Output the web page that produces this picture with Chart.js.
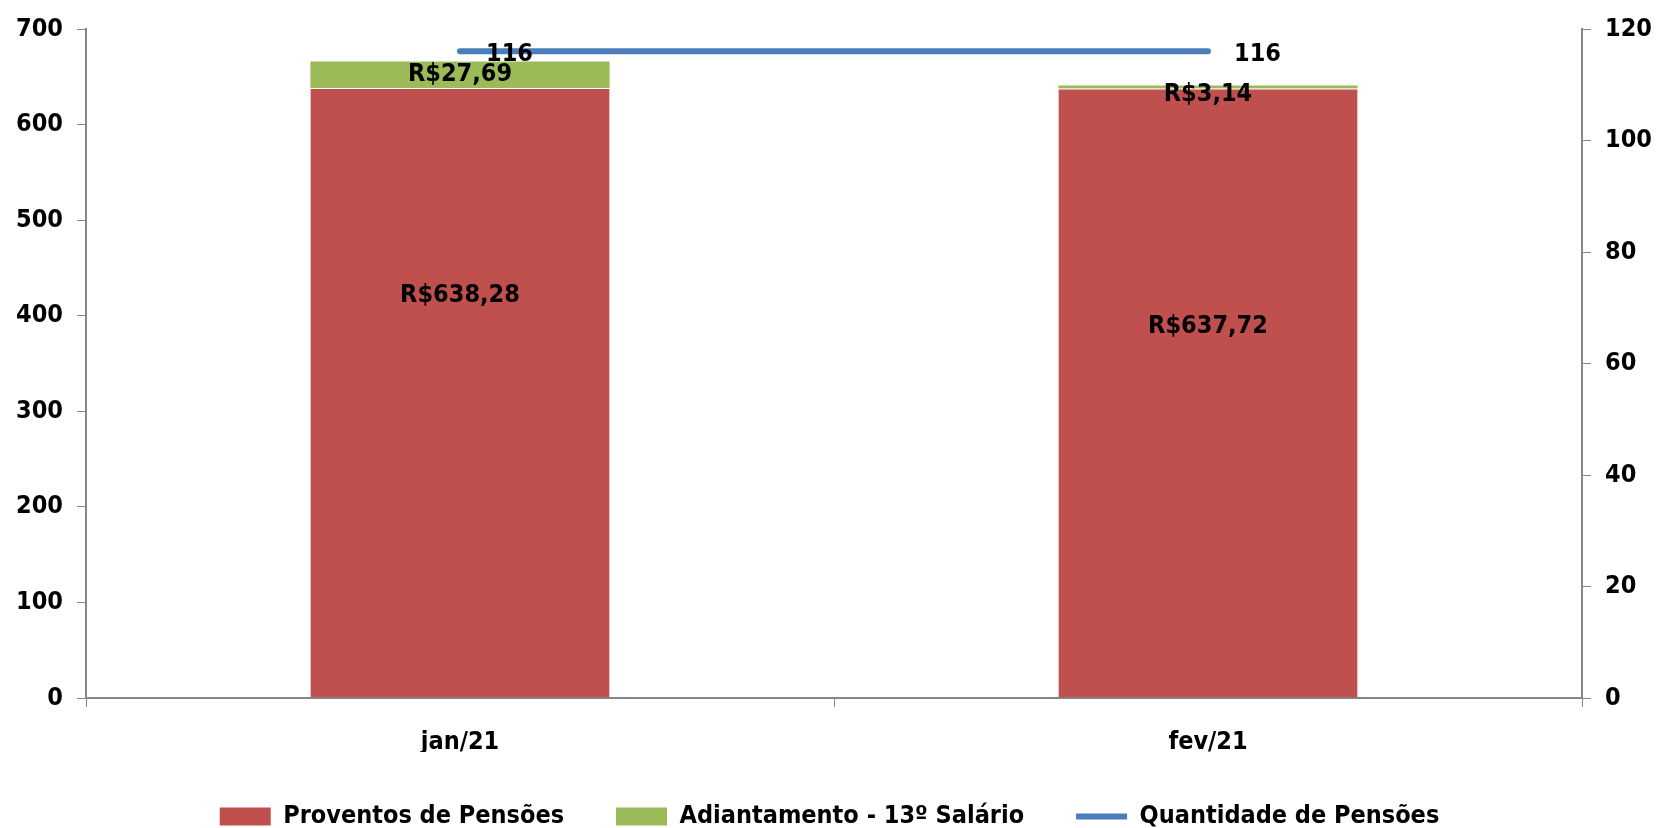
<!DOCTYPE html>
<html>
<head>
<meta charset="utf-8">
<script src="https://cdn.jsdelivr.net/npm/chart.js@4/dist/chart.umd.min.js"></script>
<style>
  html, body { margin: 0; padding: 0; background: #fff; }
  #wrap { width: 1659px; height: 828px; }
</style>
</head>
<body>
<div id="wrap"><canvas id="chart_area"></canvas></div>
<script>
var meses = ['jan/21', 'fev/21'];
var proventos = [638.28, 637.72];
var adiantamento = [27.69, 3.14];
var quantidade = [116, 116];
var ticksEsq = [0, 700, 100];
var ticksDir = [0, 120, 20];

var fonte = "'Liberation Sans Narrow', 'DejaVu Sans Condensed', sans-serif";
var cinza = '#868686';

function reais(v) {
    return 'R$' + v.toFixed(2).replace('.', ',');
}

// rótulos dos dados, desenhados à mão (sem plugin externo)
var rotulos = {
    id: 'rotulos',
    afterDatasetsDraw: function (chart) {
        var ctx = chart.ctx;
        ctx.save();
        ctx.fillStyle = '#000';
        ctx.font = 'bold 25px ' + fonte;
        ctx.textBaseline = 'middle';
        // proventos: o Excel deixou o texto acima do meio
        var posRotulo = [0.34, 0.39];
        chart.getDatasetMeta(0).data.forEach(function (bar, i) {
            ctx.textAlign = 'center';
            var y = bar.y + (bar.base - bar.y) * posRotulo[i];
            ctx.fillText(reais(proventos[i]), bar.x, y);
        });
        chart.getDatasetMeta(1).data.forEach(function (bar, i) {
            ctx.textAlign = 'center';
            var y = Math.max((bar.y + bar.base) / 2, bar.y + 9);
            ctx.fillText(reais(adiantamento[i]), bar.x, y);
        });
        chart.getDatasetMeta(2).data.forEach(function (pt, i) {
            ctx.textAlign = 'left';
            ctx.fillText(String(quantidade[i]), pt.x + 26, pt.y + 3);
        });
        ctx.restore();
    }
};

new Chart('chart_area', {
    type: 'bar',
    data: {
        labels: meses,
        datasets: [
            {
                label: 'Proventos de Pensões',
                data: proventos,
                backgroundColor: '#C0504D',
                borderColor: '#ffffff',
                borderWidth: { top: 1 },
                barPercentage: 0.4,
                categoryPercentage: 1,
                stack: 's',
                yAxisID: 'y',
                order: 2
            },
            {
                label: 'Adiantamento - 13º Salário',
                data: adiantamento,
                backgroundColor: '#9BBB59',
                barPercentage: 0.4,
                categoryPercentage: 1,
                stack: 's',
                yAxisID: 'y',
                order: 2
            },
            {
                type: 'line',
                label: 'Quantidade de Pensões',
                data: quantidade,
                borderColor: '#4A7EBB',
                backgroundColor: '#4A7EBB',
                borderWidth: 6,
                borderCapStyle: 'round',
                pointRadius: 0,
                pointHoverRadius: 0,
                yAxisID: 'y1',
                order: 1
            }
        ]
    },
    options: {
        responsive: true,
        maintainAspectRatio: false,
        animation: false,
        events: [],
        layout: { padding: { top: 15, bottom: -11, left: 0, right: 0 } },
        plugins: {
            tooltip: { enabled: false },
            legend: {
                display: true,
                position: 'bottom',
                labels: {
                    color: '#000',
                    font: { family: fonte, size: 25, weight: 'bold' },
                    usePointStyle: true,
                    pointStyleWidth: 51,
                    boxHeight: 18,
                    padding: 52,
                    generateLabels: function (chart) {
                        return chart.data.datasets.map(function (ds, i) {
                            var linha = ds.type === 'line';
                            return {
                                text: ds.label,
                                fillStyle: ds.backgroundColor,
                                strokeStyle: linha ? ds.borderColor : ds.backgroundColor,
                                lineWidth: linha ? 6 : 0,
                                pointStyle: linha ? 'line' : 'rect',
                                datasetIndex: i,
                                fontColor: '#000'
                            };
                        });
                    }
                }
            }
        },
        scales: {
            x: {
                stacked: true,
                offset: true,
                border: { color: cinza, width: 2 },
                grid: { display: true, drawOnChartArea: false, offset: true, color: cinza, tickLength: 9 },
                ticks: { color: '#000', font: { family: fonte, size: 25, weight: 'bold' }, padding: 20 },
                afterFit: function (s) { s.height = 54; }
            },
            y: {
                stacked: true,
                position: 'left',
                min: ticksEsq[0],
                max: ticksEsq[1],
                border: { color: cinza, width: 2 },
                grid: { display: true, drawOnChartArea: false, color: cinza, tickLength: 9 },
                ticks: { stepSize: ticksEsq[2], color: '#000', font: { family: fonte, size: 25, weight: 'bold' }, padding: 14 },
                afterFit: function (s) { s.width = 86; }
            },
            y1: {
                position: 'right',
                min: ticksDir[0],
                max: ticksDir[1],
                border: { color: cinza, width: 2 },
                grid: { display: true, drawOnChartArea: false, color: cinza, tickLength: 9 },
                ticks: { stepSize: ticksDir[2], color: '#000', font: { family: fonte, size: 25, weight: 'bold' }, padding: 14 },
                afterFit: function (s) { s.width = 77; }
            }
        }
    },
    plugins: [rotulos]
});
</script>
</body>
</html>
